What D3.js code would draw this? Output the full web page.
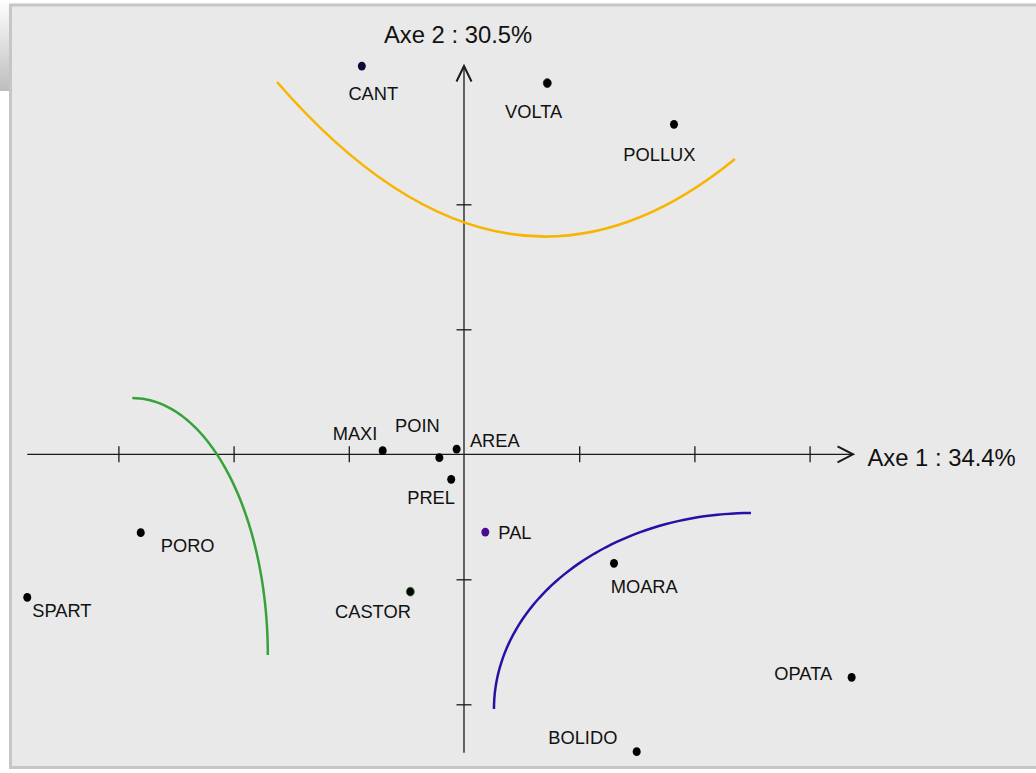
<!DOCTYPE html>
<html><head><meta charset="utf-8">
<script src="https://cdn.jsdelivr.net/npm/d3@7"></script>
<style>html,body{margin:0;padding:0;background:#fff;}svg{display:block;}</style>
</head><body>
<svg id="c" width="1036" height="773"></svg>
<script>
// ---- data (factor-plane coordinates) ----
const names = ["CANT","VOLTA","POLLUX","MAXI","POIN","AREA","PREL","PAL","CASTOR","MOARA","PORO","SPART","OPATA","BOLIDO"];
const axis1 = [-0.887, 0.723, 1.823, -0.706, -0.214, -0.064, -0.111, 0.185, -0.466, 1.302, -2.806, -3.791, 3.365, 1.499];
const axis2 = [3.106, 2.970, 2.640, 0.029, -0.027, 0.042, -0.200, -0.622, -1.099, -0.872, -0.627, -1.144, -1.784, -2.379];
const xTicks = [-3, -2, -1, 1, 2, 3];
const yTicks = [-2, -1, 1, 2];
const axis1Title = "Axe 1 : 34.4%";
const axis2Title = "Axe 2 : 30.5%";
// group contours: green & blue = quarter ellipses (center, radii, angle range in degrees)
const greenArc = {cx: -2.879, cy: -1.606, rx: 1.176, ry: 2.056, a0: 90, a1: 0};
const blueArc  = {cx: 2.491, cy: -2.038, rx: 2.231, ry: 1.568, a0: 180, a1: 90};
// orange = quadratic curve: start, control, end
const orangeCurve = [[-1.623, 2.978], [0.365, 0.866], [2.352, 2.362]];

// ---- styles / layout ----
const dotFill = {CANT:"#0b0b35", PAL:"#4a0c90", CASTOR:"#050505"};
const dotStroke = {CASTOR:"#2f7a2f", VOLTA:"#0a2a0a"};
const labelOff = {
  CANT:[-13.4,34], VOLTA:[-42.3,35.3], POLLUX:[-50.7,36.7], MAXI:[-50,-10.7],
  POIN:[-44.3,-25.4], AREA:[13.3,-2.3], PREL:[-44,25], PAL:[13,7],
  CASTOR:[-75.3,26.6], MOARA:[-3.3,30], PORO:[20,19.6], SPART:[5,19.4],
  OPATA:[-77.4,2.7], BOLIDO:[-88.4,-7.4]
};

const svg = d3.select("#c");
const x = d3.scaleLinear().domain([-4, 4]).range([464 - 4*115.2, 464 + 4*115.2]);
const y = d3.scaleLinear().domain([-3, 3]).range([454.3 + 375, 454.3 - 375]);
const FONT = "'Liberation Sans', Arial, sans-serif";

// background
const defs = svg.append("defs");
const g = defs.append("linearGradient").attr("id","tab").attr("x1",0).attr("y1",0).attr("x2",0).attr("y2",1);
g.append("stop").attr("offset","0%").attr("stop-color","#ffffff");
g.append("stop").attr("offset","100%").attr("stop-color","#bdbdbd");
svg.append("rect").attr("x",0).attr("y",0).attr("width",1036).attr("height",91).attr("fill","url(#tab)");
svg.append("rect").attr("x",10.5).attr("y",5).attr("width",1040).attr("height",762.5)
  .attr("fill","#e9e9e9").attr("stroke","#c6c6c6").attr("stroke-width",3);

const axCol = "#1a1a1a";
// horizontal axis
const x0 = x(-3.791), x1 = x(3.377), y0 = y(0);
svg.append("line").attr("x1",x0).attr("x2",x1).attr("y1",y0).attr("y2",y0)
  .attr("stroke",axCol).attr("stroke-width",1.3);
svg.append("path").attr("d",`M${x1-15.5},${y0-8}L${x1},${y0}L${x1-15.5},${y0+8}`)
  .attr("fill","none").attr("stroke",axCol).attr("stroke-width",2);
svg.append("g").attr("transform",`translate(0,${y0-8})`)
  .call(d3.axisBottom(x).tickValues(xTicks).tickSize(16).tickFormat(""))
  .call(s=>{s.select(".domain").remove(); s.selectAll("line").attr("stroke",axCol).attr("stroke-width",1.3);});
// vertical axis
const xv = x(0), yb = y(-2.387), yt = y(3.106);
svg.append("line").attr("x1",xv).attr("x2",xv).attr("y1",yb).attr("y2",yt)
  .attr("stroke",axCol).attr("stroke-width",1.3);
svg.append("path").attr("d",`M${xv-7.5},${yt+15.5}L${xv},${yt}L${xv+7.5},${yt+15.5}`)
  .attr("fill","none").attr("stroke",axCol).attr("stroke-width",2);
svg.append("g").attr("transform",`translate(${xv-7.5},0)`)
  .call(d3.axisRight(y).tickValues(yTicks).tickSize(15).tickFormat(""))
  .call(s=>{s.select(".domain").remove(); s.selectAll("line").attr("stroke",axCol).attr("stroke-width",1.3);});

// axis titles
svg.append("text").attr("x",867.5).attr("y",465.5).text(axis1Title)
  .attr("font-family",FONT).attr("font-size",23.8).attr("fill","#111");
svg.append("text").attr("x",384).attr("y",43.3).text(axis2Title)
  .attr("font-family",FONT).attr("font-size",23.8).attr("fill","#111");

// contours
function ellipseArc(a){
  const pts = d3.range(0, 61).map(i=>{
    const t = (a.a0 + (a.a1 - a.a0)*i/60) * Math.PI/180;
    return [x(a.cx + a.rx*Math.cos(t)), y(a.cy + a.ry*Math.sin(t))];
  });
  return d3.line()(pts);
}
svg.append("path").attr("d",ellipseArc(greenArc)).attr("fill","none").attr("stroke","#37a23a").attr("stroke-width",2.5);
svg.append("path").attr("d",ellipseArc(blueArc)).attr("fill","none").attr("stroke","#2a0fa6").attr("stroke-width",2.5);
const op = d3.path();
op.moveTo(x(orangeCurve[0][0]), y(orangeCurve[0][1]));
op.quadraticCurveTo(x(orangeCurve[1][0]), y(orangeCurve[1][1]), x(orangeCurve[2][0]), y(orangeCurve[2][1]));
svg.append("path").attr("d",op.toString()).attr("fill","none").attr("stroke","#f7b400").attr("stroke-width",2.5);

// points + labels
const pts = names.map((n,i)=>({n, a:axis1[i], b:axis2[i]}));
svg.selectAll("ellipse.pt").data(pts).join("ellipse").attr("class","pt")
  .attr("cx",d=>x(d.a)).attr("cy",d=>y(d.b)).attr("rx",4).attr("ry",4.4)
  .attr("fill",d=>dotFill[d.n]||"#000")
  .attr("stroke",d=>dotStroke[d.n]||"none").attr("stroke-width",0.8);
svg.selectAll("text.lb").data(pts).join("text").attr("class","lb")
  .attr("x",d=>x(d.a)+labelOff[d.n][0]).attr("y",d=>y(d.b)+labelOff[d.n][1])
  .text(d=>d.n).attr("font-family",FONT).attr("font-size",18.3).attr("fill","#111");
</script>
</body></html>
